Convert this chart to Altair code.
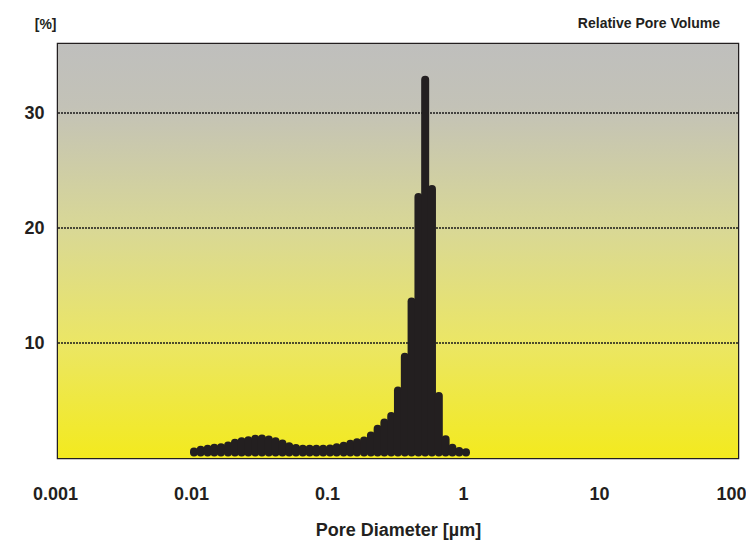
import altair as alt
import pandas as pd

# ---- data ----
diameters = [0.0100, 0.0112, 0.0126, 0.0141, 0.0158, 0.0178, 0.0200, 0.0224, 0.0251, 0.0282,
             0.0316, 0.0355, 0.0398, 0.0447, 0.0501, 0.0562, 0.0631, 0.0708, 0.0794, 0.0891,
             0.100, 0.112, 0.126, 0.141, 0.158, 0.178, 0.200, 0.224, 0.251, 0.282,
             0.316, 0.355, 0.398, 0.447, 0.501, 0.562, 0.631, 0.708, 0.794, 0.891, 1.000]
volumes = [0.57, 0.71, 0.80, 0.89, 0.94, 1.09, 1.32, 1.46, 1.55, 1.67,
           1.70, 1.60, 1.46, 1.26, 1.02, 0.88, 0.80, 0.80, 0.80, 0.80,
           0.82, 0.94, 1.07, 1.23, 1.36, 1.52, 1.96, 2.54, 3.08, 3.65,
           5.87, 8.80, 13.6, 22.7, 32.9, 23.4, 5.40, 1.62, 0.89, 0.60, 0.50]
BASE = 0.48
x_ticks = [0.001, 0.01, 0.1, 1, 10, 100]
y_ticks = [10, 20, 30]
grid_values = [10, 20, 30]
X_DOMAIN = [0.001, 100]
Y_DOMAIN = [0, 36]

W, H = 680, 414
FONT = "Liberation Sans"
INK = "#231f20"

bars = pd.DataFrame({"d": diameters, "v": volumes, "base": [BASE] * len(diameters)})
bgdf = pd.DataFrame({"x0": [X_DOMAIN[0]], "x1": [X_DOMAIN[1]],
                     "y0": [Y_DOMAIN[0]], "y1": [Y_DOMAIN[1]]})
griddf = pd.DataFrame({"g": grid_values})

x_scale = alt.Scale(type="log", domain=X_DOMAIN, nice=False)
y_scale = alt.Scale(domain=Y_DOMAIN, nice=False, zero=True)

x_axis = alt.Axis(values=x_ticks, format="~g", labelFlush=False, ticks=False, domain=False,
                  grid=False, labelPadding=27, labelFontSize=18, labelFont=FONT,
                  labelFontWeight="bold", labelColor=INK,
                  labelAlign=alt.ExprRef(expr="datum.value >= 100 ? 'right' : 'center'"),
                  labelOffset=alt.ExprRef(expr="datum.value >= 100 ? 8 : -3"),
                  title="Pore Diameter [µm]", titleFont=FONT, titleFontSize=18,
                  titleFontWeight="bold", titleColor=INK, titleBaseline="alphabetic",
                  titleY=77)
y_axis = alt.Axis(values=y_ticks, ticks=False, domain=False, grid=False, labelPadding=14,
                  labelFontSize=18, labelFont=FONT, labelFontWeight="bold", labelColor=INK,
                  title="[%]", titleAngle=0, titleAlign="right", titleBaseline="alphabetic",
                  titleX=-2, titleY=-16, titleFont=FONT, titleFontSize=14,
                  titleFontWeight="bold", titleColor=INK)

gradient = alt.LinearGradient(
    gradient="linear",
    stops=[alt.GradientStop(offset=0.0, color="#bfbfbd"),
           alt.GradientStop(offset=0.15, color="#c3c2b7"),
           alt.GradientStop(offset=0.45, color="#d9d895"),
           alt.GradientStop(offset=0.72, color="#ebe665"),
           alt.GradientStop(offset=1.0, color="#f3ea1e")],
    x1=0, x2=0, y1=0, y2=1)

bg = alt.Chart(bgdf).mark_rect(fill=gradient).encode(
    x=alt.X("x0:Q", scale=x_scale, axis=x_axis), x2="x1:Q",
    y=alt.Y("y0:Q", scale=y_scale, axis=y_axis), y2="y1:Q")

grid = alt.Chart(griddf).mark_rule(color="#1a1a1a", strokeDash=[2, 1], strokeWidth=1.4).encode(
    y=alt.Y("g:Q", scale=y_scale, axis=y_axis))

bar_layer = alt.Chart(bars).mark_rule(strokeWidth=8, strokeCap="round", color=INK).encode(
    x=alt.X("d:Q", scale=x_scale, axis=x_axis),
    y=alt.Y("base:Q", scale=y_scale, axis=y_axis), y2="v:Q")

header = alt.Chart(pd.DataFrame({"t": ["Relative Pore Volume"]})).mark_text(
    align="right", baseline="alphabetic", font=FONT, fontSize=14, fontWeight="bold", color=INK
).encode(x=alt.value(W - 18), y=alt.value(-16), text="t:N")

chart = alt.layer(bg, grid, bar_layer, header).properties(
    width=W, height=H,
    autosize=alt.AutoSizeParams(type="none"),
    padding={"left": 50, "top": 36, "right": 8, "bottom": 86},
    background="white",
).configure_view(stroke=INK, strokeWidth=2.5)

chart.save("out.html", embed_options={"renderer": "svg", "actions": False})
